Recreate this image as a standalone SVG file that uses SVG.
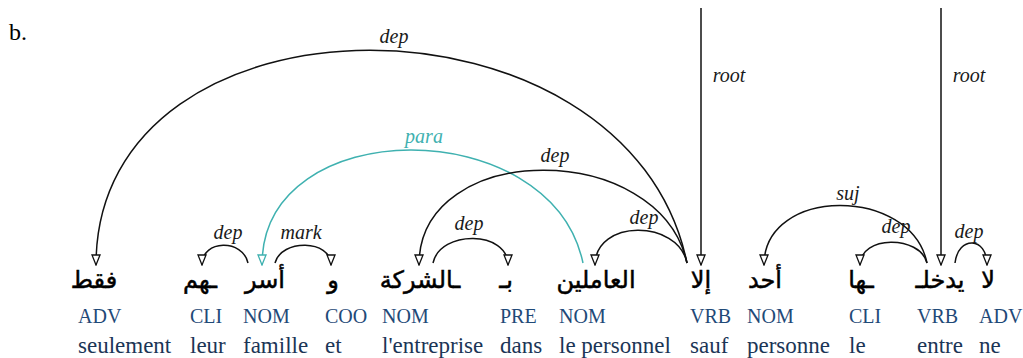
<svg xmlns="http://www.w3.org/2000/svg" width="1023" height="358" viewBox="0 0 1023 358">
<style>
.ar{font-family:"DejaVu Sans",sans-serif;font-size:24px;fill:#000;stroke:#000;stroke-width:0.5;text-anchor:middle}
.pos{font-family:"Liberation Serif",serif;font-size:20px;fill:#1f4a78}
.fr{font-family:"Liberation Serif",serif;font-size:23px;fill:#1b3556}
.lbl{font-family:"Liberation Serif",serif;font-style:italic;font-size:20px;fill:#1a1a1a;text-anchor:middle}
.arc{fill:none;stroke:#111;stroke-width:1.5;marker-end:url(#ah)}
.para{fill:none;stroke:#3fb1b0;stroke-width:1.5;marker-end:url(#aht)}
</style>
<defs>
<marker id="ah" markerUnits="userSpaceOnUse" viewBox="0 0 12 10" refX="11" refY="5" markerWidth="12" markerHeight="10" orient="auto">
<path d="M1,1 L11,5 L1,9 Z" fill="#fff" stroke="#111" stroke-width="1.3"/>
</marker>
<marker id="aht" markerUnits="userSpaceOnUse" viewBox="0 0 12 10" refX="11" refY="5" markerWidth="12" markerHeight="10" orient="auto">
<path d="M1,1 L11,5 L1,9 Z" fill="#fff" stroke="#3fb1b0" stroke-width="1.3"/>
</marker>
</defs>
<rect width="1023" height="358" fill="#fff"/>
<text x="9" y="40" font-family="Liberation Serif" font-size="24" fill="#000">b.</text>

<g id="connectors">
<path class="arc" d="M687,263 C628,-21 96,-21 96,265"/>
<path class="para" d="M583,263 C551,112 262,112 262,265"/>
<path class="arc" d="M687,263 C660,139 419,139 419,265"/>
<path class="arc" d="M687,263 C678,219 595,219 595,265"/>
<path class="arc" d="M248,263 C243,239 202,239 202,265"/>
<path class="arc" d="M275,263 C281,239 331,239 331,265"/>
<path class="arc" d="M433,263 C440,230 508,230 508,265"/>
<path class="arc" d="M927,263 C911,186 764,186 764,265"/>
<path class="arc" d="M927,263 C920,235 860,235 860,265"/>
<path class="arc" d="M955,263 C958,236 987,236 987,265"/>
<path class="arc" d="M701,8 L701,265"/>
<path class="arc" d="M941,8 L941,265"/>
<text class="lbl" x="394" y="43">dep</text>
<text class="lbl" x="424" y="143" style="fill:#3fb1b0">para</text>
<text class="lbl" x="555" y="162">dep</text>
<text class="lbl" x="644" y="224">dep</text>
<text class="lbl" x="228" y="239">dep</text>
<text class="lbl" x="301" y="239">mark</text>
<text class="lbl" x="469" y="230">dep</text>
<text class="lbl" x="848" y="200">suj</text>
<text class="lbl" x="896" y="233">dep</text>
<text class="lbl" x="969" y="238">dep</text>
<text class="lbl" x="729" y="82">root</text>
<text class="lbl" x="969" y="82">root</text>
</g>

<g id="n1"><text class="ar" x="94" y="288">فقط</text><text class="pos" x="78" y="323">ADV</text><text class="fr" x="78" y="353">seulement</text></g>
<g id="n2"><text class="ar" x="200" y="288">ـهم</text><text class="pos" x="190" y="323">CLI</text><text class="fr" x="190" y="353">leur</text></g>
<g id="n3"><text class="ar" x="265" y="288">أسر</text><text class="pos" x="243" y="323">NOM</text><text class="fr" x="243" y="353">famille</text></g>
<g id="n4"><text class="ar" x="333" y="288">و</text><text class="pos" x="325" y="323">COO</text><text class="fr" x="325" y="353">et</text></g>
<g id="n5"><text class="ar" x="420" y="288">ـالشركة</text><text class="pos" x="382" y="323">NOM</text><text class="fr" x="382" y="353">l'entreprise</text></g>
<g id="n6"><text class="ar" x="506" y="288">بـ</text><text class="pos" x="500" y="323">PRE</text><text class="fr" x="500" y="353">dans</text></g>
<g id="n7"><text class="ar" x="596" y="288">العاملين</text><text class="pos" x="559" y="323">NOM</text><text class="fr" x="559" y="353">le personnel</text></g>
<g id="n8"><text class="ar" x="701" y="288">إلا</text><text class="pos" x="690" y="323">VRB</text><text class="fr" x="690" y="353">sauf</text></g>
<g id="n9"><text class="ar" x="765" y="288">أحد</text><text class="pos" x="747" y="323">NOM</text><text class="fr" x="747" y="353">personne</text></g>
<g id="n10"><text class="ar" x="861" y="288">ـها</text><text class="pos" x="849" y="323">CLI</text><text class="fr" x="849" y="353">le</text></g>
<g id="n11"><text class="ar" x="940" y="288">يدخلـ</text><text class="pos" x="917" y="323">VRB</text><text class="fr" x="917" y="353">entre</text></g>
<g id="n12"><text class="ar" x="988" y="288">لا</text><text class="pos" x="979" y="323">ADV</text><text class="fr" x="979" y="353">ne</text></g>
</svg>
